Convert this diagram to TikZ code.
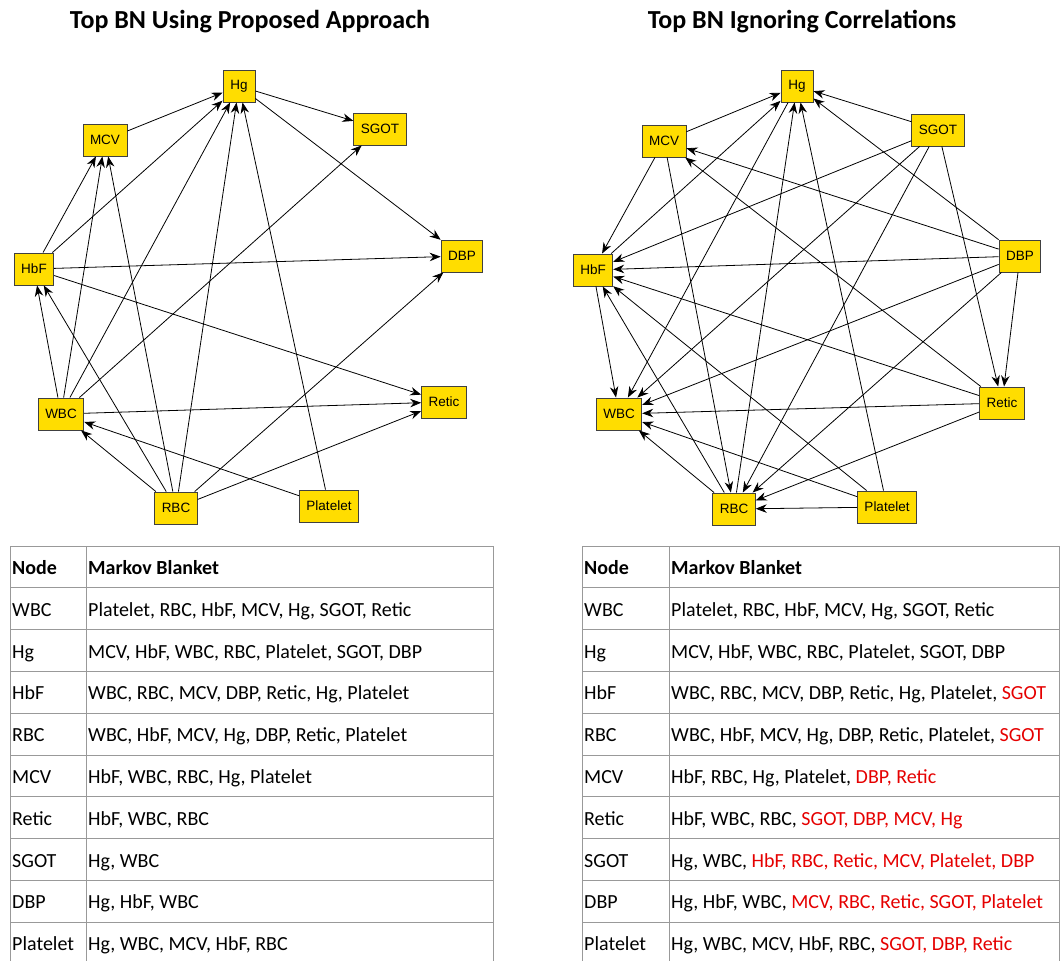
\documentclass[tikz,border=0pt]{standalone}
\usepackage{fontspec}
\setmainfont{Carlito}
\newfontfamily\arialfont{Liberation Sans}
\usetikzlibrary{arrows.meta}
\tikzset{>={Stealth[length=11pt,width=8.5pt]}}
\definecolor{bnyellow}{RGB}{255,221,0}
\colorlet{rulecol}{black!40}
\colorlet{addcol}{red!90!black}
\tikzstyle{bnnode}=[draw=black!75,fill=bnyellow,line width=0.9pt,font=\arialfont\fontsize{13.5}{15}\selectfont,minimum height=32pt,minimum width=32pt,inner xsep=7pt,inner ysep=0pt]
\tikzstyle{bnedge}=[->,line width=0.8pt]
\tikzstyle{bntitle}=[font=\bfseries\fontsize{26}{30}\selectfont]
\tikzstyle{cell}=[anchor=base west,inner sep=0pt,font=\fontsize{20}{24}\selectfont]
\tikzstyle{tablerule}=[rulecol,line width=1pt]

\begin{document}
\begin{tikzpicture}[x=1pt,y=-1pt]
  \useasboundingbox (0,0) rectangle (1060,961);
  \def\rowh{41.8}
  \def\ttop{546}

  % TITLES
  \node[bntitle] (ltitle) at (250,22) {Top BN Using Proposed Approach};
  \node[bntitle] (rtitle) at (802,22) {Top BN Ignoring Correlations};

  % LEFT NETWORK
  \foreach \n/\x/\y in {Hg/239/86, MCV/105/140, SGOT/380/129, HbF/34/269, DBP/462/256,
                        WBC/61/414, Retic/444/402, RBC/176/508, Platelet/329/506}
    \node[bnnode] (L\n) at (\x,\y) {\n};
  \foreach \a/\b in {MCV/Hg, Hg/SGOT, Hg/DBP, HbF/MCV, HbF/Hg, HbF/DBP, HbF/Retic,
                     WBC/HbF, WBC/MCV, WBC/Hg, WBC/SGOT, WBC/Retic,
                     RBC/WBC, RBC/HbF, RBC/MCV, RBC/Hg, RBC/DBP, RBC/Retic,
                     Platelet/WBC, Platelet/Hg}
    \draw[bnedge] (L\a) -- (L\b);

  % RIGHT NETWORK
  \foreach \n/\x/\y in {Hg/797/86, MCV/664/141, SGOT/938/130, HbF/593/270, DBP/1020/256,
                        WBC/619/414, Retic/1002/403, RBC/734/509, Platelet/887/507}
    \node[bnnode] (R\n) at (\x,\y) {\n};
  \foreach \a/\b in {MCV/Hg, HbF/Hg, RBC/Hg, Platelet/Hg, SGOT/Hg, DBP/Hg,
                     MCV/HbF, SGOT/HbF, DBP/HbF, Retic/HbF, RBC/HbF, Platelet/HbF,
                     HbF/WBC, Hg/WBC, SGOT/WBC, DBP/WBC, Retic/WBC, Platelet/WBC, RBC/WBC,
                     MCV/RBC, SGOT/RBC, DBP/RBC, Retic/RBC, Platelet/RBC,
                     SGOT/Retic, DBP/Retic, DBP/MCV, Retic/MCV}
    \draw[bnedge] (R\a) -- (R\b);

  % TABLE GRIDS
  \foreach \k in {0,...,9}{
    \draw[tablerule] (10,{\ttop+\k*\rowh}) -- (493,{\ttop+\k*\rowh});
    \draw[tablerule] (582,{\ttop+\k*\rowh}) -- (1060,{\ttop+\k*\rowh});
  }
  \foreach \x in {10,86,493,582,669,1059.5}
    \draw[tablerule] (\x,\ttop) -- (\x,961);

  % TABLE TEXT
  \node[cell,font=\bfseries\fontsize{20}{24}\selectfont] (lhn) at (12,{\ttop+0.5*\rowh+7.5}) {Node};
  \node[cell,font=\bfseries\fontsize{20}{24}\selectfont] (lhm) at (88,{\ttop+0.5*\rowh+7.5}) {Markov Blanket};
  \node[cell,font=\bfseries\fontsize{20}{24}\selectfont] (rhn) at (584,{\ttop+0.5*\rowh+7.5}) {Node};
  \node[cell,font=\bfseries\fontsize{20}{24}\selectfont] (rhm) at (671,{\ttop+0.5*\rowh+7.5}) {Markov Blanket};
  \foreach \n/\mb [count=\i] in {WBC/{Platelet, RBC, HbF, MCV, Hg, SGOT, Retic},
                                 Hg/{MCV, HbF, WBC, RBC, Platelet, SGOT, DBP},
                                 HbF/{WBC, RBC, MCV, DBP, Retic, Hg, Platelet},
                                 RBC/{WBC, HbF, MCV, Hg, DBP, Retic, Platelet},
                                 MCV/{HbF, WBC, RBC, Hg, Platelet},
                                 Retic/{HbF, WBC, RBC},
                                 SGOT/{Hg, WBC},
                                 DBP/{Hg, HbF, WBC},
                                 Platelet/{Hg, WBC, MCV, HbF, RBC}}{
    \node[cell] (ln\i) at (12,{\ttop+(\i+0.5)*\rowh+7.5}) {\n};
    \node[cell] (lm\i) at (88,{\ttop+(\i+0.5)*\rowh+7.5}) {\mb};
  }
  \foreach \n/\mb [count=\i] in {WBC/{Platelet, RBC, HbF, MCV, Hg, SGOT, Retic},
                                 Hg/{MCV, HbF, WBC, RBC, Platelet, SGOT, DBP},
                                 HbF/{WBC, RBC, MCV, DBP, Retic, Hg, Platelet, \textcolor{addcol}{SGOT}},
                                 RBC/{WBC, HbF, MCV, Hg, DBP, Retic, Platelet, \textcolor{addcol}{SGOT}},
                                 MCV/{HbF, RBC, Hg, Platelet, \textcolor{addcol}{DBP, Retic}},
                                 Retic/{HbF, WBC, RBC, \textcolor{addcol}{SGOT, DBP, MCV, Hg}},
                                 SGOT/{Hg, WBC, \textcolor{addcol}{HbF, RBC, Retic, MCV, Platelet, DBP}},
                                 DBP/{Hg, HbF, WBC, \textcolor{addcol}{MCV, RBC, Retic, SGOT, Platelet}},
                                 Platelet/{Hg, WBC, MCV, HbF, RBC, \textcolor{addcol}{SGOT, DBP, Retic}}}{
    \node[cell] (rn\i) at (584,{\ttop+(\i+0.5)*\rowh+7.5}) {\n};
    \node[cell] (rm\i) at (671,{\ttop+(\i+0.5)*\rowh+7.5}) {\mb};
  }
\end{tikzpicture}
\end{document}
